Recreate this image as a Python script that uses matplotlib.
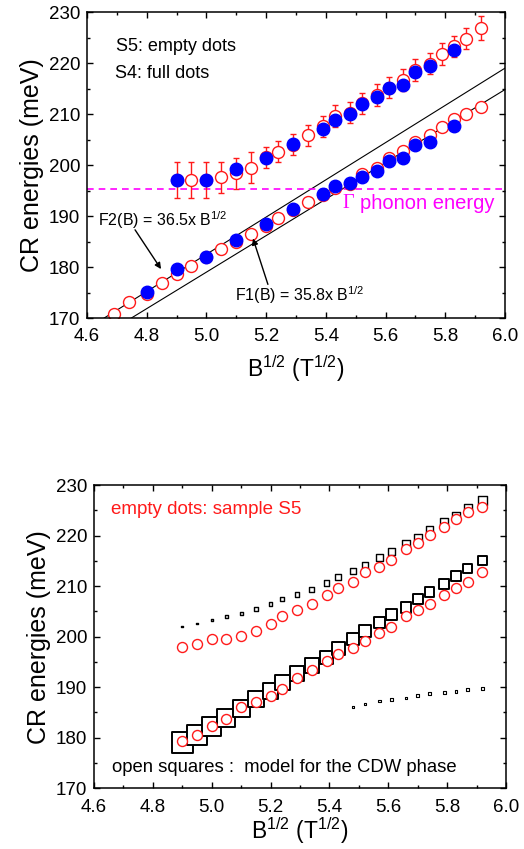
#!/usr/bin/env python3
"""CR energies vs sqrt(B): measured branches (S4, S5) and CDW model comparison."""

from __future__ import annotations

import matplotlib
import numpy as np

matplotlib.use("Agg")
import matplotlib.pyplot as plt
from matplotlib.ticker import FormatStrFormatter, MultipleLocator

# ---- top panel data -------------------------------------------------------
s5_upper_x = [4.90, 4.95, 5.00, 5.05, 5.10, 5.15, 5.20, 5.24, 5.29, 5.34, 5.39, 5.43,
              5.48, 5.52, 5.57, 5.61, 5.66, 5.70, 5.75, 5.79, 5.83, 5.87, 5.92]
s5_upper_y = [197.0, 197.0, 197.1, 197.6, 198.4, 199.5, 201.5, 202.6, 204.0, 205.8, 207.6, 209.6,
              210.3, 212.1, 213.7, 215.2, 216.7, 218.6, 219.9, 221.8, 223.3, 224.8, 226.9]
s5_upper_err = [3.5, 3.5, 3.5, 3.0, 3.0, 3.1, 2.1, 2.1, 2.1, 2.1, 2.1, 2.1,
                2.1, 2.1, 2.1, 2.1, 2.1, 2.1, 2.1, 2.1, 2.1, 2.1, 2.3]

s5_lower_x = [4.69, 4.74, 4.80, 4.85, 4.90, 4.95, 5.00, 5.05, 5.10, 5.15, 5.20, 5.24, 5.29,
              5.34, 5.39, 5.43, 5.48, 5.52, 5.57, 5.61, 5.66, 5.70, 5.75, 5.79, 5.83, 5.87, 5.92]
s5_lower_y = [170.8, 173.2, 174.8, 176.9, 178.6, 180.3, 181.9, 183.5, 185.0, 186.5, 188.1, 189.7, 191.2,
              192.7, 194.2, 195.5, 196.3, 198.2, 199.5, 201.3, 202.8, 204.6, 205.9, 207.4, 209.0, 210.1, 211.4]

s4_upper_x = [4.90, 5.00, 5.10, 5.20, 5.29, 5.39, 5.43, 5.48, 5.52, 5.57, 5.61, 5.66, 5.70, 5.75, 5.83]
s4_upper_y = [197.1, 197.1, 199.3, 201.4, 204.1, 207.1, 208.9, 210.1, 211.9, 213.3, 215.1, 215.7, 218.3, 219.5, 222.6]

s4_lower_x = [4.80, 4.90, 5.00, 5.10, 5.20, 5.29, 5.39, 5.43, 5.48, 5.52, 5.57, 5.61, 5.66, 5.70, 5.75, 5.83]
s4_lower_y = [175.2, 179.7, 182.0, 185.3, 188.4, 191.3, 194.3, 195.8, 196.4, 197.7, 198.8, 200.8, 201.4, 203.9, 204.6, 207.7]

f1_coeff = 35.8
f2_coeff = 36.5
phonon_energy = 195.3

# ---- bottom panel data ----------------------------------------------------
cdw_x = [4.90, 4.95, 5.00, 5.05, 5.10, 5.15, 5.20, 5.24, 5.29, 5.34, 5.39, 5.43,
         5.48, 5.52, 5.57, 5.61, 5.66, 5.70, 5.74, 5.79, 5.83, 5.87, 5.92]
cdw_upper_y = [202.0, 202.6, 203.3, 204.0, 204.6, 205.5, 206.5, 207.4, 208.4, 209.4, 210.6, 211.8,
               213.0, 214.2, 215.7, 216.9, 218.3, 219.6, 221.1, 222.6, 223.9, 225.5, 226.9]
cdw_upper_weight = [0.08, 0.09, 0.10, 0.12, 0.14, 0.16, 0.18, 0.20, 0.22, 0.24, 0.26, 0.28,
                    0.30, 0.31, 0.32, 0.34, 0.35, 0.36, 0.37, 0.38, 0.39, 0.40, 0.41]
cdw_lower_y = [179.0, 180.5, 182.3, 184.0, 185.7, 187.6, 189.3, 191.0, 192.7, 194.3, 195.9, 197.6,
               199.5, 201.2, 202.8, 204.3, 205.8, 207.4, 208.9, 210.4, 212.0, 213.5, 215.0]
cdw_lower_weight = [1.00, 0.95, 0.90, 0.86, 0.81, 0.77, 0.74, 0.71, 0.69, 0.67, 0.65, 0.63,
                    0.60, 0.57, 0.55, 0.53, 0.50, 0.48, 0.47, 0.45, 0.44, 0.43, 0.42]
cdw_weak_x = [5.48, 5.52, 5.57, 5.61, 5.66, 5.70, 5.74, 5.79, 5.83, 5.87, 5.92]
cdw_weak_y = [186.0, 186.6, 187.3, 187.6, 187.9, 188.3, 188.7, 189.0, 189.2, 189.5, 189.7]
cdw_weak_weight = [0.10, 0.10, 0.11, 0.12, 0.12, 0.13, 0.13, 0.14, 0.14, 0.15, 0.15]

s5b_x = cdw_x
s5b_upper_y = [198.0, 198.5, 199.5, 199.5, 200.2, 201.1, 202.6, 204.0, 205.3, 206.4, 208.2, 209.6,
               210.8, 212.7, 213.8, 215.2, 217.3, 218.5, 220.1, 221.6, 223.2, 224.6, 225.7]
s5b_lower_y = [179.4, 180.5, 182.3, 183.7, 186.0, 187.1, 188.3, 189.6, 191.8, 193.4, 195.2, 196.5,
               197.7, 199.2, 200.8, 202.0, 204.0, 205.3, 206.4, 208.2, 209.6, 210.8, 212.7]

RED = "#ff1a1a"
BLUE = "#0000ff"
MAGENTA = "#ff00ff"

plt.rcParams["font.family"] = ["Liberation Sans", "DejaVu Sans"]
plt.rcParams["mathtext.fontset"] = "custom"
plt.rcParams["mathtext.rm"] = "Liberation Sans"
plt.rcParams["mathtext.it"] = "Liberation Sans:italic"
plt.rcParams["mathtext.default"] = "regular"

XLABEL = r"B$^{1/2}$ (T$^{1/2}$)"


def style_axes(ax, xlabel_pad: float) -> None:
    ax.set_xlim(4.6, 6.0)
    ax.set_ylim(170, 230)
    ax.xaxis.set_major_locator(MultipleLocator(0.2))
    ax.xaxis.set_minor_locator(MultipleLocator(0.1))
    ax.yaxis.set_major_locator(MultipleLocator(10))
    ax.yaxis.set_minor_locator(MultipleLocator(5))
    ax.xaxis.set_major_formatter(FormatStrFormatter("%.1f"))
    ax.tick_params(which="both", direction="in", top=True, right=True, labelsize=13.5, width=1.0)
    ax.tick_params(which="major", length=4.5)
    ax.tick_params(which="minor", length=2.5)
    ax.tick_params(axis="x", which="major", pad=7.5)
    ax.tick_params(axis="y", which="major", pad=5)
    for sp in ax.spines.values():
        sp.set_linewidth(1.1)
    ax.set_xlabel(XLABEL, fontsize=16.5, labelpad=xlabel_pad)
    ax.set_ylabel("CR energies (meV)", fontsize=18, labelpad=3)


def plot_top(ax) -> None:
    xs = np.linspace(4.6, 6.0, 50)
    ax.plot(xs, f2_coeff * xs, color="k", lw=0.8, zorder=1)
    ax.plot(xs, f1_coeff * xs, color="k", lw=0.8, zorder=1)
    ax.axhline(phonon_energy, color=MAGENTA, lw=1.2, dashes=(4, 3), zorder=1)

    ax.errorbar(s5_upper_x, s5_upper_y, yerr=s5_upper_err, fmt="o", ms=8.6, mfc="white",
                mec=RED, mew=1.0, ecolor=RED, elinewidth=1.0, capsize=2.4, capthick=1.0, zorder=2)
    ax.plot(s5_lower_x, s5_lower_y, "o", ms=8.6, mfc="white", mec=RED, mew=1.0, zorder=2)
    ax.plot(s4_upper_x, s4_upper_y, "o", ms=9.0, color=BLUE, mec=BLUE, zorder=3)
    ax.plot(s4_lower_x, s4_lower_y, "o", ms=9.0, color=BLUE, mec=BLUE, zorder=3)

    ax.text(4.697, 223.3, "S5: empty dots", fontsize=13, va="center")
    ax.text(4.694, 218.0, "S4: full dots", fontsize=13, va="center")

    ax.text(5.455, 192.5, "\u0393", fontsize=14.5, color=MAGENTA, va="center",
            family=["Liberation Serif", "DejaVu Serif"])
    ax.text(5.515, 192.5, "phonon energy", fontsize=14.5, color=MAGENTA, va="center")

    arrow = dict(arrowstyle="-|>", color="k", lw=1.0, mutation_scale=9, shrinkA=0, shrinkB=0)
    ax.text(4.637, 189.2, r"F2(B) = 36.5x B$^{1/2}$", fontsize=11.5, va="center")
    ax.annotate("", xy=(4.848, 179.6), xytext=(4.761, 187.3), arrowprops=arrow)
    ax.text(5.096, 174.5, r"F1(B) = 35.8x B$^{1/2}$", fontsize=11.5, va="center")
    ax.annotate("", xy=(5.156, 185.6), xytext=(5.206, 176.6), arrowprops=arrow)

    style_axes(ax, xlabel_pad=6)


def plot_bottom(ax) -> None:
    px_per_pt = 100 / 72
    sq_size = lambda w: (np.array(w) * 21.0 / px_per_pt) ** 2

    ax.scatter(cdw_x, cdw_upper_y, s=sq_size(cdw_upper_weight), marker="s", facecolors="white",
               edgecolors="k", linewidths=1.0, zorder=2)
    ax.scatter(cdw_weak_x, cdw_weak_y, s=sq_size(cdw_weak_weight), marker="s", facecolors="white",
               edgecolors="k", linewidths=0.8, zorder=2)
    ax.scatter(cdw_x, cdw_lower_y, s=sq_size(cdw_lower_weight), marker="s", facecolors="white",
               edgecolors="k", linewidths=1.4, zorder=2)

    ax.plot(s5b_x, s5b_upper_y, "o", ms=7.2, mfc="white", mec=RED, mew=1.0, zorder=3)
    ax.plot(s5b_x, s5b_lower_y, "o", ms=7.2, mfc="white", mec=RED, mew=1.0, zorder=3)

    ax.text(4.658, 225.1, "empty dots: sample S5", fontsize=13.5, color=RED, va="center")
    ax.text(4.661, 174.2, "open squares :  model for the CDW phase", fontsize=13.3, va="center")

    style_axes(ax, xlabel_pad=0)


def main() -> None:
    fig = plt.figure(figsize=(5.24, 8.49), dpi=100)
    ax_top = fig.add_axes([0.1660, 0.6254, 0.7977, 0.3604])
    ax_bot = fig.add_axes([0.1794, 0.0715, 0.7863, 0.3572])
    plot_top(ax_top)
    plot_bottom(ax_bot)
    fig.savefig("out.png", dpi=100)
    plt.close(fig)


if __name__ == "__main__":
    main()
